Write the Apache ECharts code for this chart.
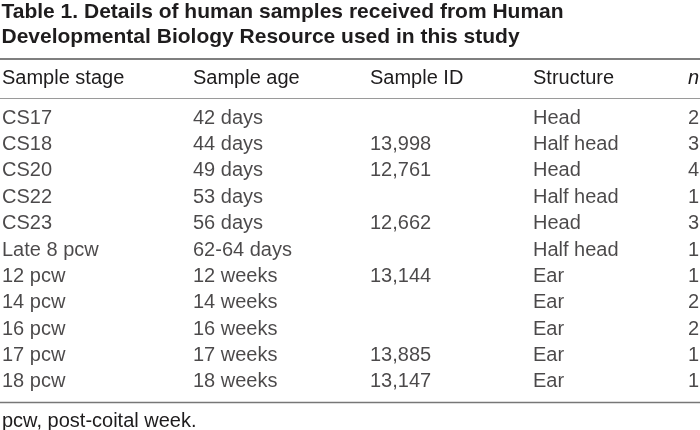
<!DOCTYPE html>
<html>
<head>
<meta charset="utf-8">
<script src="https://cdn.jsdelivr.net/npm/echarts@6/dist/echarts.min.js"></script>
<style>
html,body{margin:0;padding:0;background:#fff;}
#chart{width:700px;height:430px;}
</style>
</head>
<body>
<div id="chart"></div>
<script>
// ---- Data ----
const titleLines = ['Table 1. Details of human samples received from Human', 'Developmental Biology Resource used in this study'];
const headers = ['Sample stage', 'Sample age', 'Sample ID', 'Structure', 'n'];
const stages = ['CS17', 'CS18', 'CS20', 'CS22', 'CS23', 'Late 8 pcw', '12 pcw', '14 pcw', '16 pcw', '17 pcw', '18 pcw'];
const ages = ['42 days', '44 days', '49 days', '53 days', '56 days', '62-64 days', '12 weeks', '14 weeks', '16 weeks', '17 weeks', '18 weeks'];
const sampleIds = ['', '13,998', '12,761', '', '12,662', '', '13,144', '', '', '13,885', '13,147'];
const structures = ['Head', 'Half head', 'Head', 'Half head', 'Head', 'Half head', 'Ear', 'Ear', 'Ear', 'Ear', 'Ear'];
const nValues = [2, 3, 4, 1, 3, 1, 1, 2, 2, 1, 1];
const footnote = 'pcw, post-coital week.';

// ---- Layout (kept apart from data) ----
const colX = [2, 193, 370, 533, 688];
const textColor = '#1e1c1d';
const fontFamily = '"Liberation Sans", Arial, Helvetica, sans-serif';
const bodySize = 20;

const columns = [stages, ages, sampleIds, structures, nValues];

const series = columns.map(function (col, ci) {
  return {
    type: 'scatter',
    symbolSize: 0,
    silent: true,
    data: col.map(function (v, ri) { return { value: [colX[ci], ri], label: { formatter: String(v) } }; }),
    label: {
      show: true,
      position: 'right',
      distance: 0,
      color: textColor,
      fontFamily: fontFamily,
      fontSize: bodySize
    }
  };
});

const graphics = [];
titleLines.forEach(function (t, i) {
  graphics.push({
    type: 'text', silent: true,
    position: [1.5, 12 + i * 25.3],
    style: { text: t, fill: textColor, font: 'bold 21px ' + fontFamily, verticalAlign: 'middle' }
  });
});
headers.forEach(function (h, i) {
  graphics.push({
    type: 'text', silent: true,
    position: [colX[i], 78.5],
    style: { text: h, fill: textColor, font: (i === 4 ? 'italic ' : '') + bodySize + 'px ' + fontFamily, verticalAlign: 'middle' }
  });
});
graphics.push({
  type: 'text', silent: true, position: [2, 421],
  style: { text: footnote, fill: textColor, font: bodySize + 'px ' + fontFamily, verticalAlign: 'middle' }
});
[[59, '#555', 1.6], [98.5, '#9a9a9a', 1.2], [402.5, '#777', 1.6]].forEach(function (l) {
  graphics.push({
    type: 'line', silent: true,
    shape: { x1: 0, y1: l[0], x2: 700, y2: l[0] },
    style: { stroke: l[1], lineWidth: l[2] }
  });
});

const chart = echarts.init(document.getElementById('chart'), null, { renderer: 'canvas' });
chart.setOption({
  animation: false,
  backgroundColor: '#fff',
  grid: { left: 0, right: 0, top: 105.1, bottom: 35.1, containLabel: false },
  xAxis: { type: 'value', min: 0, max: 700, show: false },
  yAxis: { type: 'category', data: stages, inverse: true, show: false, boundaryGap: true },
  series: series,
  graphic: { elements: graphics }
});
</script>
</body>
</html>
